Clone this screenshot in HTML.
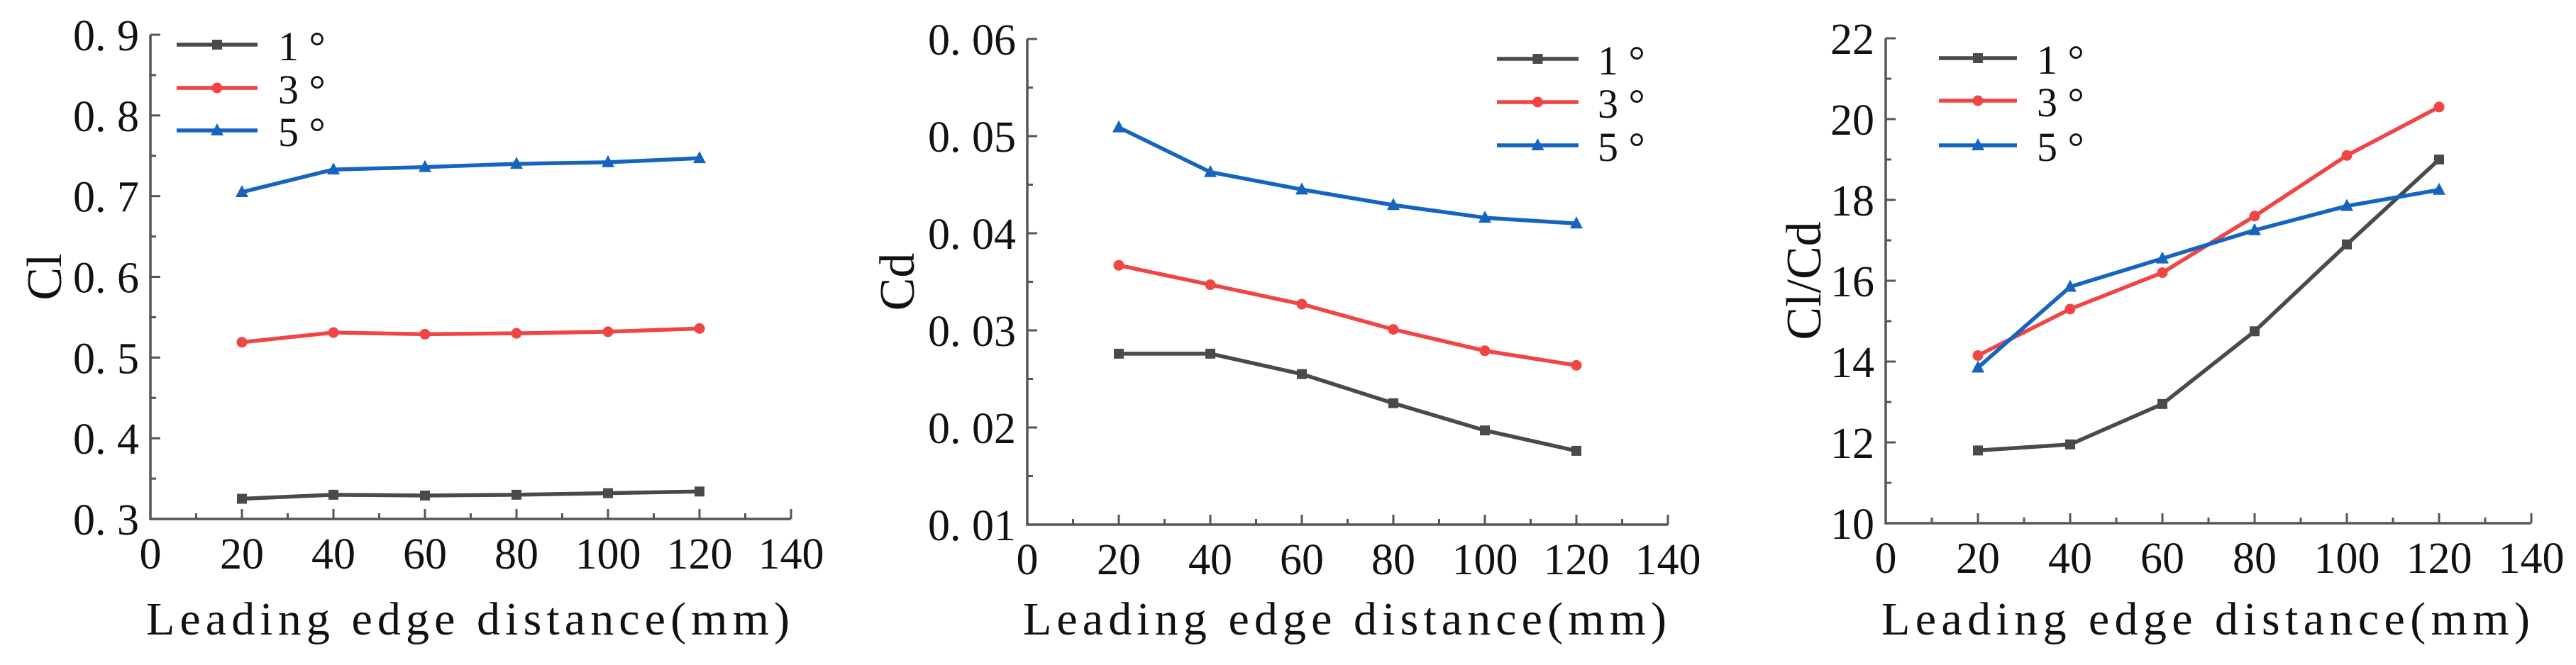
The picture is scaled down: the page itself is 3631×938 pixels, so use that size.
<!DOCTYPE html>
<html><head><meta charset="utf-8"><style>
html,body{margin:0;padding:0;background:#fff;}
svg{display:block;}
text{font-family:"Liberation Serif","Noto Serif CJK SC",serif;fill:#111;}
</style></head><body>
<svg id="chart" width="3631" height="938" viewBox="0 0 3631 938" xmlns="http://www.w3.org/2000/svg"></svg>
<script>
const xValues = [20, 40, 60, 80, 100, 120];
const seriesNames = ["1 °", "3 °", "5 °"];
const clAngle1 = [0.325, 0.330, 0.329, 0.330, 0.332, 0.334];
const clAngle3 = [0.519, 0.531, 0.529, 0.530, 0.532, 0.536];
const clAngle5 = [0.705, 0.733, 0.736, 0.740, 0.742, 0.747];
const cdAngle1 = [0.0276, 0.0276, 0.0255, 0.0225, 0.0197, 0.0176];
const cdAngle3 = [0.0367, 0.0347, 0.0327, 0.0301, 0.0279, 0.0264];
const cdAngle5 = [0.0509, 0.0463, 0.0445, 0.0429, 0.0416, 0.0410];
const ldAngle1 = [11.8, 11.95, 12.95, 14.75, 16.9, 19.0];
const ldAngle3 = [14.15, 15.3, 16.2, 17.6, 19.1, 20.3];
const ldAngle5 = [13.85, 15.85, 16.55, 17.25, 17.85, 18.25];
const xTickLabels = ["0", "20", "40", "60", "80", "100", "120", "140"];
const clTickLabels = ["0. 3", "0. 4", "0. 5", "0. 6", "0. 7", "0. 8", "0. 9"];
const cdTickLabels = ["0. 01", "0. 02", "0. 03", "0. 04", "0. 05", "0. 06"];
const ldTickLabels = ["10", "12", "14", "16", "18", "20", "22"];

const NS = "http://www.w3.org/2000/svg";
const svg = document.getElementById("chart");
const colors = ["#4a4a4a", "#ef4545", "#1565c0"];
const markers = ["square", "circle", "triangle"];

function mk(tag, attrs, parent) {
  const e = document.createElementNS(NS, tag);
  for (const k in attrs) e.setAttribute(k, attrs[k]);
  (parent || svg).appendChild(e);
  return e;
}

const panels = [
  {id: "cl", x0: 212, x1: 1115, yb: 732, yt: 49, ymin: 0.3, ymax: 0.9, ticks: clTickLabels, title: "Cl", titleX: 62,
   series: [clAngle1, clAngle3, clAngle5], legX: 249, legX2: 363, legLabX: 392, legY: [63, 124, 184]},
  {id: "cd", x0: 1448, x1: 2351, yb: 740, yt: 55, ymin: 0.01, ymax: 0.06, ticks: cdTickLabels, title: "Cd", titleX: 1264,
   series: [cdAngle1, cdAngle3, cdAngle5], legX: 2110, legX2: 2225, legLabX: 2252, legY: [83, 144, 205]},
  {id: "clcd", x0: 2658, x1: 3568, yb: 738, yt: 54, ymin: 10, ymax: 22, ticks: ldTickLabels, title: "Cl/Cd", titleX: 2542,
   series: [ldAngle1, ldAngle3, ldAngle5], legX: 2733, legX2: 2843, legLabX: 2871, legY: [82, 142, 205]}
];

function drawMarker(g, type, cx, cy, color) {
  let m;
  if (type === "square") m = mk("rect", {x: cx - 7, y: cy - 7, width: 14, height: 14, fill: color}, g);
  else if (type === "circle") m = mk("circle", {cx: cx, cy: cy, r: 7.5, fill: color}, g);
  else m = mk("polygon", {points: `${cx},${cy - 10} ${cx + 9},${cy + 7} ${cx - 9},${cy + 7}`, fill: color}, g);
  
  
}

panels.forEach(p => {
  const g = mk("g", {});
  
  
  const xs = v => p.x0 + (v / 140) * (p.x1 - p.x0);
  const ys = v => p.yb - (v - p.ymin) / (p.ymax - p.ymin) * (p.yb - p.yt);
  const axc = "#555";
  const ax = mk("path", {d: `M${p.x0},${p.yt} L${p.x0},${p.yb} L${p.x1},${p.yb}`, fill: "none", stroke: axc, "stroke-width": 3.5}, g);
  
  
  for (let i = 1; i <= 14; i++) {
    const x = xs(i * 10);
    const len = i % 2 === 0 ? 14 : 8;
    mk("line", {x1: x, y1: p.yb, x2: x, y2: p.yb - len, stroke: axc, "stroke-width": 3}, g);
  }
  xTickLabels.forEach((t, i) => {
    const tx = mk("text", {x: xs(i * 20), y: p.yb + 70, "font-size": 62, "text-anchor": "middle"}, g);
    tx.textContent = t;
    
    
  });
  const n = p.ticks.length - 1;
  for (let i = 1; i <= 2 * n; i++) {
    const v = p.ymin + (p.ymax - p.ymin) * i / (2 * n);
    const y = ys(v);
    const len = i % 2 === 0 ? 14 : 8;
    mk("line", {x1: p.x0, y1: y, x2: p.x0 + len, y2: y, stroke: axc, "stroke-width": 3}, g);
  }
  p.ticks.forEach((t, i) => {
    const v = p.ymin + (p.ymax - p.ymin) * i / n;
    const tx = mk("text", {x: p.x0 - 16, y: ys(v) + 22, "font-size": 62, "text-anchor": "end"}, g);
    tx.textContent = t;
    
    
  });
  const xt = mk("text", {x: p.x0 - 6, y: 895, "font-size": 66, textLength: (p.x1 - p.x0) + 4, lengthAdjust: "spacing"}, g);
  xt.textContent = "Leading edge distance(mm)";
  
  
  const cy = (p.yt + p.yb) / 2;
  const yt = mk("text", {x: p.titleX, y: cy, "font-size": 70, "text-anchor": "middle", transform: `rotate(-90 ${p.titleX} ${cy})`, dy: 24}, g);
  yt.textContent = p.title;
  
  
  p.series.forEach((vals, si) => {
    const sg = mk("g", {}, g);
    
    
    const pts = vals.map((v, i) => `${xs(xValues[i])},${ys(v)}`).join(" ");
    const pl = mk("polyline", {points: pts, fill: "none", stroke: colors[si], "stroke-width": 5.5, "stroke-linejoin": "round"}, sg);
    
    
    vals.forEach((v, i) => drawMarker(sg, markers[si], xs(xValues[i]), ys(v), colors[si]));
    const lg = mk("g", {}, g);
    
    
    const ly = p.legY[si];
    mk("line", {x1: p.legX, y1: ly, x2: p.legX2, y2: ly, stroke: colors[si], "stroke-width": 5.5}, lg);
    drawMarker(lg, markers[si], (p.legX + p.legX2) / 2, ly, colors[si]);
    const lt = mk("text", {x: p.legLabX, y: ly + 22, "font-size": 58}, lg);
    lt.textContent = seriesNames[si];
    
    
  });
});
</script>
</body></html>
